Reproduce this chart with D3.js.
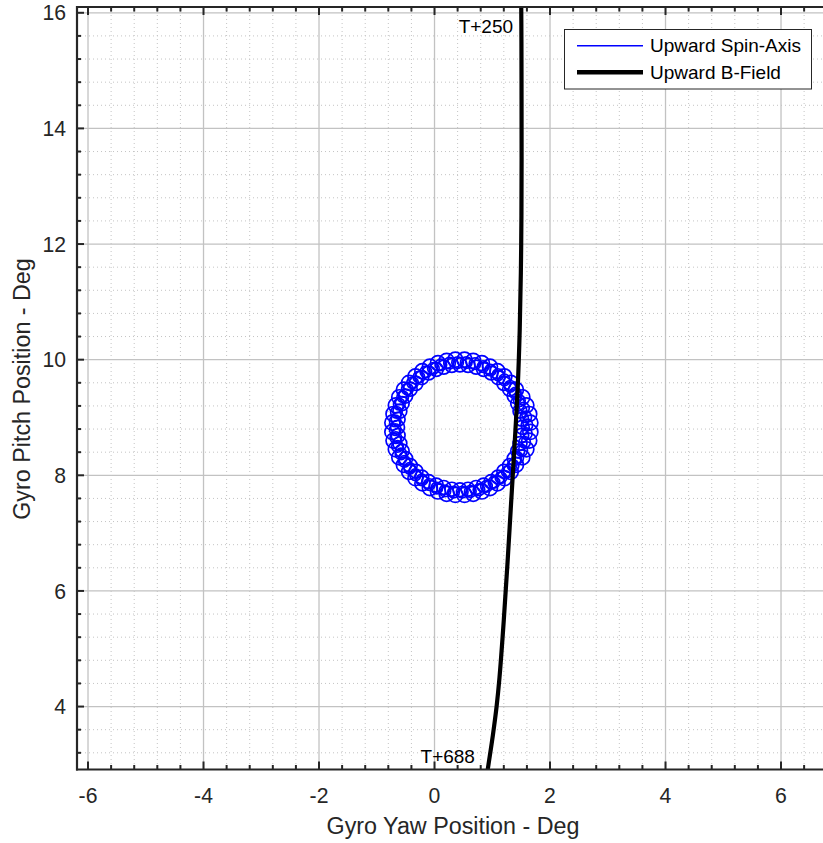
<!DOCTYPE html>
<html><head><meta charset="utf-8">
<script src="https://cdn.jsdelivr.net/npm/d3@7"></script>
<style>body{margin:0;background:#fff}</style>
</head><body>
<svg id="c" width="823" height="843"></svg>
<script>
// ---- data ----
const xTicks=[-6,-4,-2,0,2,4,6];
const yTicks=[4,6,8,10,12,14,16];
const xDomain=[-6.208,6.727];
const yDomain=[2.92,16.1];
const xLabel="Gyro Yaw Position - Deg";
const yLabel="Gyro Pitch Position - Deg";
const seriesNames=["Upward Spin-Axis","Upward B-Field"];
const startLabel="T+250", endLabel="T+688";

// Upward B-Field trace (yaw, pitch)
const bFieldY=[16.4,15.5,14.5,13.5,12.5,11.5,10.5,9.5,8.5,7.5,6.5,5.5,4.5,4.0,3.5,3.0,2.7];
const bFieldX=[1.50,1.505,1.507,1.508,1.505,1.495,1.475,1.44,1.385,1.325,1.265,1.20,1.125,1.075,1.01,0.935,0.89];

// Upward Spin-Axis nutation loop centres (yaw, pitch), three passes of 48
const spinX=[
 1.52,1.51,1.48,1.44,1.38,1.30,1.20,1.10,0.98,0.85,0.72,0.58,
 0.44,0.30,0.16,0.03,-0.10,-0.22,-0.32,-0.42,-0.50,-0.56,-0.60,-0.63,
 -0.64,-0.63,-0.60,-0.56,-0.50,-0.42,-0.32,-0.22,-0.10,0.03,0.16,0.30,
 0.44,0.58,0.72,0.85,0.98,1.10,1.20,1.30,1.38,1.44,1.48,1.51,
 1.66,1.64,1.59,1.52,1.41,1.32,1.21,1.09,0.96,0.82,0.67,0.52,
 0.36,0.21,0.06,-0.08,-0.21,-0.33,-0.44,-0.53,-0.61,-0.67,-0.71,-0.73,
 -0.73,-0.71,-0.67,-0.61,-0.53,-0.44,-0.33,-0.21,-0.08,0.06,0.21,0.36,
 0.52,0.67,0.82,0.96,1.09,1.21,1.32,1.41,1.52,1.59,1.64,1.66,
 1.60,1.58,1.54,1.47,1.40,1.31,1.21,1.10,0.97,0.84,0.70,0.55,
 0.40,0.26,0.11,-0.02,-0.15,-0.27,-0.38,-0.47,-0.55,-0.61,-0.66,-0.68,
 -0.68,-0.67,-0.64,-0.58,-0.52,-0.43,-0.33,-0.22,-0.09,0.04,0.18,0.33,
 0.48,0.62,0.77,0.90,1.03,1.15,1.26,1.36,1.44,1.51,1.56,1.59];
const spinY=[
 8.83,8.97,9.11,9.24,9.37,9.49,9.59,9.69,9.77,9.83,9.87,9.90,
 9.91,9.90,9.87,9.83,9.77,9.69,9.59,9.49,9.37,9.24,9.11,8.97,
 8.83,8.69,8.55,8.42,8.29,8.17,8.07,7.97,7.89,7.83,7.79,7.76,
 7.75,7.76,7.79,7.83,7.89,7.97,8.07,8.17,8.29,8.42,8.55,8.69,
 8.91,9.06,9.21,9.35,9.48,9.60,9.71,9.80,9.88,9.94,9.98,10.00,
 10.00,9.98,9.94,9.88,9.80,9.71,9.60,9.48,9.35,9.21,9.06,8.91,
 8.75,8.60,8.45,8.31,8.18,8.06,7.95,7.86,7.78,7.72,7.68,7.66,
 7.66,7.68,7.72,7.78,7.86,7.95,8.06,8.18,8.31,8.45,8.60,8.75,
 8.87,9.01,9.16,9.29,9.42,9.54,9.65,9.74,9.82,9.88,9.93,9.95,
 9.95,9.94,9.91,9.85,9.79,9.70,9.60,9.49,9.36,9.23,9.09,8.94,
 8.79,8.65,8.50,8.37,8.24,8.12,8.01,7.92,7.84,7.78,7.73,7.71,
 7.71,7.72,7.75,7.81,7.88,7.96,8.06,8.17,8.30,8.43,8.57,8.72];
const loopRadii=[0.12,0.13,0.10];   // nutation loop radius for each pass

// ---- layout ----
const L=77, R=823, T=7, B=769.5;
const svg=d3.select("#c");
const x=d3.scaleLinear().domain(xDomain).range([76,823]);
const y=d3.scaleLinear().domain(yDomain).range([769,7]);
const font="'Liberation Sans', Arial, Helvetica, sans-serif";
const ink="#262626";

svg.append("defs").append("clipPath").attr("id","clip")
  .append("rect").attr("x",76).attr("y",7).attr("width",823-76).attr("height",769-7);

const minorX=d3.range(-6.4,6.8,0.4).map(v=>+v.toFixed(2)).filter(v=>v>xDomain[0]&&v<xDomain[1]&&Math.abs(v/2-Math.round(v/2))>1e-6);
const minorY=d3.range(3.2,16.1,0.4).map(v=>+v.toFixed(2)).filter(v=>v>yDomain[0]&&v<yDomain[1]&&Math.abs(v/2-Math.round(v/2))>1e-6);

const g=svg.append("g").attr("clip-path","url(#clip)");
// minor grid
g.selectAll(".mgx").data(minorX).enter().append("line")
  .attr("x1",d=>x(d)).attr("x2",d=>x(d)).attr("y1",T).attr("y2",B)
  .attr("stroke","#c4c4c4").attr("stroke-width",1).attr("stroke-dasharray","1,3");
g.selectAll(".mgy").data(minorY).enter().append("line")
  .attr("y1",d=>y(d)).attr("y2",d=>y(d)).attr("x1",L).attr("x2",R)
  .attr("stroke","#c4c4c4").attr("stroke-width",1).attr("stroke-dasharray","1,3");
// major grid
g.selectAll(".gx").data(xTicks).enter().append("line")
  .attr("x1",d=>x(d)).attr("x2",d=>x(d)).attr("y1",T).attr("y2",B)
  .attr("stroke","#c2c2c2").attr("stroke-width",1.3);
g.selectAll(".gy").data(yTicks).enter().append("line")
  .attr("y1",d=>y(d)).attr("y2",d=>y(d)).attr("x1",L).attr("x2",R)
  .attr("stroke","#c2c2c2").attr("stroke-width",1.3);

// spin-axis loops
g.selectAll(".loop").data(spinX.map((v,i)=>[v,spinY[i],loopRadii[Math.floor(i/48)]])).enter().append("ellipse")
  .attr("cx",d=>x(d[0])).attr("cy",d=>y(d[1]))
  .attr("rx",d=>x(d[2])-x(0)).attr("ry",d=>y(0)-y(d[2]))
  .attr("fill","none").attr("stroke","#0000ff").attr("stroke-width",1.7);

// B-field line
const line=d3.line().x(d=>x(d[0])).y(d=>y(d[1])).curve(d3.curveCatmullRom);
g.append("path").datum(bFieldX.map((v,i)=>[v,bFieldY[i]]))
  .attr("d",line).attr("fill","none").attr("stroke","#000").attr("stroke-width",4.2);

// annotations
svg.append("text").attr("x",x(1.36)).attr("y",y(15.65)).attr("text-anchor","end")
  .attr("font-family",font).attr("font-size",19).attr("fill","#000").text(startLabel);
svg.append("text").attr("x",x(0.70)).attr("y",y(3.02)).attr("text-anchor","end")
  .attr("font-family",font).attr("font-size",19).attr("fill","#000").text(endLabel);

// axes spines
svg.append("line").attr("x1",L).attr("x2",L).attr("y1",T-1).attr("y2",B+1).attr("stroke",ink).attr("stroke-width",2.2);
svg.append("line").attr("x1",L-1).attr("x2",R).attr("y1",T).attr("y2",T).attr("stroke",ink).attr("stroke-width",2.2);
svg.append("line").attr("x1",L-1).attr("x2",R).attr("y1",B).attr("y2",B).attr("stroke",ink).attr("stroke-width",2.2);

// ticks
function ticks(vals,len){
  vals.forEach(v=>{
    svg.append("line").attr("x1",x(v)).attr("x2",x(v)).attr("y1",B).attr("y2",B-len).attr("stroke",ink).attr("stroke-width",2);
    svg.append("line").attr("x1",x(v)).attr("x2",x(v)).attr("y1",T).attr("y2",T+len).attr("stroke",ink).attr("stroke-width",2);
  });
}
function yticks(vals,len){
  vals.forEach(v=>{
    svg.append("line").attr("y1",y(v)).attr("y2",y(v)).attr("x1",L).attr("x2",L+len).attr("stroke",ink).attr("stroke-width",2);
  });
}
ticks(xTicks,8); ticks(minorX,4.5);
yticks(yTicks,7); yticks(minorY,4);

// tick labels
svg.selectAll(".xl").data(xTicks).enter().append("text")
  .attr("x",d=>x(d)).attr("y",802.5).attr("text-anchor","middle")
  .attr("font-family",font).attr("font-size",21.2).attr("fill",ink).text(d=>d);
svg.selectAll(".yl").data(yTicks).enter().append("text")
  .attr("x",66).attr("y",d=>y(d)+7.6).attr("text-anchor","end")
  .attr("font-family",font).attr("font-size",21.2).attr("fill",ink).text(d=>d);

// axis labels
svg.append("text").attr("x",453).attr("y",834).attr("text-anchor","middle")
  .attr("font-family",font).attr("font-size",23.3).attr("fill",ink).text(xLabel);
svg.append("text").attr("transform","translate(30,389) rotate(-90)").attr("text-anchor","middle")
  .attr("font-family",font).attr("font-size",23.3).attr("fill",ink).text(yLabel);

// legend
const lg=svg.append("g");
lg.append("rect").attr("x",564.5).attr("y",29.5).attr("width",247).attr("height",59.5)
  .attr("fill","#fff").attr("stroke",ink).attr("stroke-width",1);
const legStyles=[{c:"#0000ff",w:1.5},{c:"#000",w:4.5}];
seriesNames.forEach((n,i)=>{
  const yy=45.7+i*26.6;
  lg.append("line").attr("x1",577).attr("x2",643).attr("y1",yy).attr("y2",yy)
    .attr("stroke",legStyles[i].c).attr("stroke-width",legStyles[i].w);
  lg.append("text").attr("x",650).attr("y",yy+6.5).attr("font-family",font)
    .attr("font-size",19).attr("fill","#000").text(n);
});
</script>
</body></html>
